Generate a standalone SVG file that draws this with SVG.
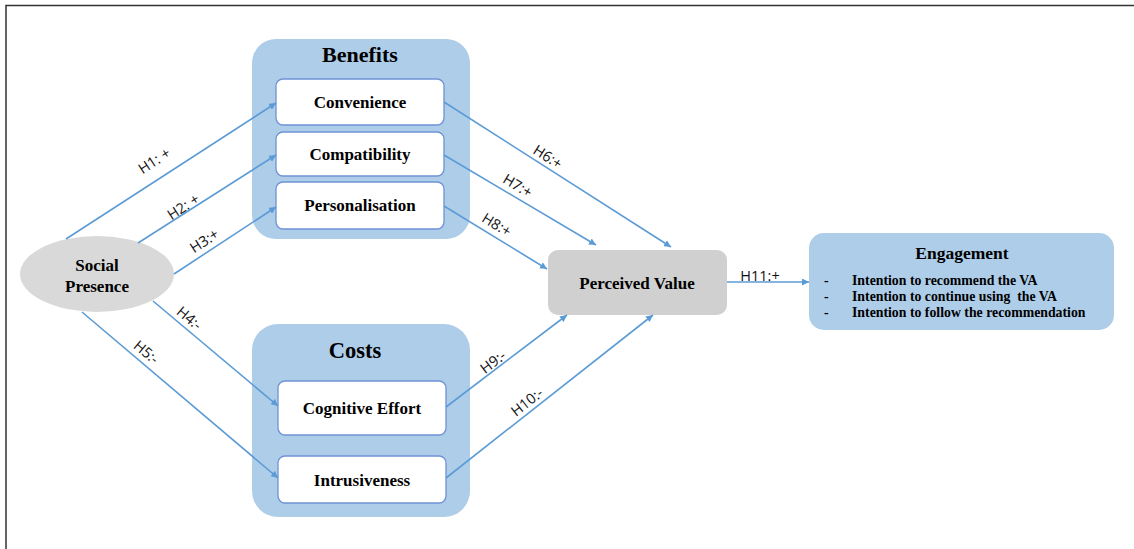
<svg xmlns="http://www.w3.org/2000/svg" width="1134" height="549" viewBox="0 0 1134 549">
<style>
.group{fill:#aecde9;}
.box{fill:#ffffff;stroke:#6f92d6;stroke-width:1.3;}
.t{font-family:"Liberation Serif",serif;font-weight:bold;fill:#000;text-anchor:middle;}
.lbl{font-family:"Open Sans","Liberation Sans",sans-serif;font-size:14.5px;fill:#111;text-anchor:middle;}
.c{stroke:#5b9bd5;stroke-width:1.6;fill:none;marker-end:url(#ah);}
.li{font-family:"Liberation Serif",serif;font-weight:bold;font-size:13.8px;fill:#000;}
</style>
<defs>
<marker id="ah" viewBox="0 0 10 10" refX="10" refY="5" markerWidth="7" markerHeight="7" markerUnits="userSpaceOnUse" orient="auto">
<path d="M0,0 L10,5 L0,10 z" fill="#5b9bd5"/>
</marker>
</defs>
<rect width="1134" height="549" fill="#ffffff"/>
<path d="M6,549 V5.5 H1134" fill="none" stroke="#333" stroke-width="1.5"/>

<g id="benefits">
<rect class="group" x="252" y="39" width="218" height="200" rx="24"/>
<text class="t" x="360" y="62" font-size="22">Benefits</text>
</g>
<g id="convenience">
<rect class="box" x="276" y="79" width="168" height="46" rx="7"/>
<text class="t" x="360" y="108" font-size="17">Convenience</text>
</g>
<g id="compatibility">
<rect class="box" x="276" y="132" width="168" height="44" rx="7"/>
<text class="t" x="360" y="160" font-size="17">Compatibility</text>
</g>
<g id="personalisation">
<rect class="box" x="276" y="182" width="168" height="47" rx="7"/>
<text class="t" x="360" y="211" font-size="17">Personalisation</text>
</g>

<g id="costs">
<rect class="group" x="252" y="324" width="218" height="193" rx="26"/>
<text class="t" x="355" y="358" font-size="22.5">Costs</text>
</g>
<g id="cognitive-effort">
<rect class="box" x="278" y="381" width="168" height="54" rx="7"/>
<text class="t" x="362" y="414" font-size="17">Cognitive Effort</text>
</g>
<g id="intrusiveness">
<rect class="box" x="278" y="456" width="168" height="47" rx="7"/>
<text class="t" x="362" y="486" font-size="17">Intrusiveness</text>
</g>

<g id="social-presence">
<ellipse cx="97" cy="274" rx="77" ry="38" fill="#d9d9d9"/>
<text class="t" x="97" y="271" font-size="17">Social</text>
<text class="t" x="97" y="292" font-size="17">Presence</text>
</g>

<g id="perceived-value">
<rect x="548" y="250" width="179" height="65" rx="10" fill="#d0d0d0"/>
<text class="t" x="637" y="289" font-size="17">Perceived Value</text>
</g>

<g id="engagement">
<rect class="group" x="809" y="233" width="305" height="97" rx="15"/>
<text class="t" x="962" y="259" font-size="17.5">Engagement</text>
<text class="li" x="824" y="285">-</text>
<text class="li" x="852" y="285">Intention to recommend the VA</text>
<text class="li" x="824" y="301">-</text>
<text class="li" x="852" y="301" xml:space="preserve">Intention to continue using  the VA</text>
<text class="li" x="824" y="317">-</text>
<text class="li" x="852" y="317">Intention to follow the recommendation</text>
</g>

<g id="connectors">
<line class="c" x1="66" y1="239" x2="276" y2="103"/>
<line class="c" x1="138" y1="243" x2="276" y2="155"/>
<line class="c" x1="174" y1="274" x2="276" y2="207"/>
<line class="c" x1="153" y1="301" x2="278" y2="406"/>
<line class="c" x1="82" y1="312" x2="278" y2="478"/>
<line class="c" x1="444" y1="102" x2="671" y2="247"/>
<line class="c" x1="444" y1="155" x2="596" y2="245"/>
<line class="c" x1="444" y1="206" x2="547" y2="269"/>
<line class="c" x1="446" y1="407" x2="567" y2="315"/>
<line class="c" x1="446" y1="478" x2="653" y2="315"/>
<line class="c" x1="727" y1="282" x2="809" y2="282"/>

<text class="lbl" transform="translate(157,165) rotate(-33)">H1: +</text>
<text class="lbl" transform="translate(186,211) rotate(-33)">H2: +</text>
<text class="lbl" transform="translate(207,245) rotate(-33)">H3:+</text>
<text class="lbl" transform="translate(186,322) rotate(40)">H4:-</text>
<text class="lbl" transform="translate(143,356) rotate(40)">H5:-</text>
<text class="lbl" transform="translate(545,161) rotate(32.5)">H6:+</text>
<text class="lbl" transform="translate(515,190) rotate(31)">H7:+</text>
<text class="lbl" transform="translate(494,229) rotate(31.5)">H8:+</text>
<text class="lbl" transform="translate(496,366) rotate(-37)">H9:-</text>
<text class="lbl" transform="translate(530,406) rotate(-38)">H10:-</text>
<text class="lbl" x="760" y="281">H11:+</text>
</g>
</svg>
